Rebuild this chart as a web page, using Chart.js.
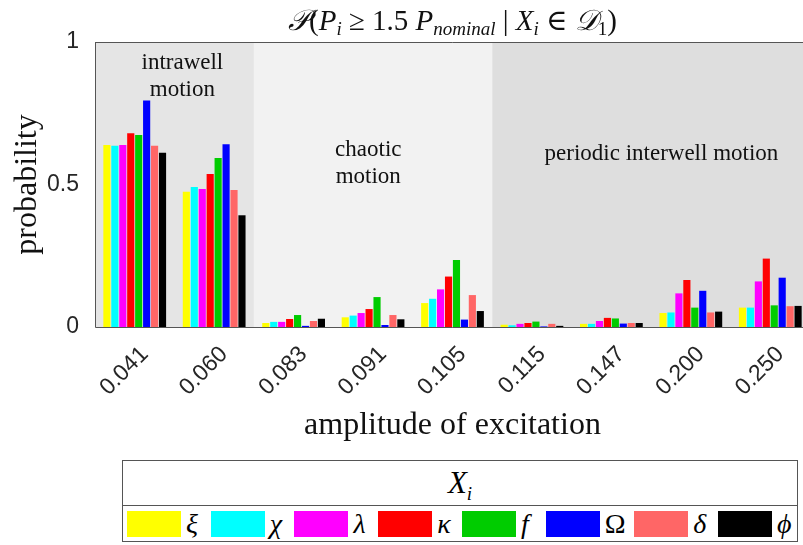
<!DOCTYPE html>
<html>
<head>
<meta charset="utf-8">
<script src="https://cdn.jsdelivr.net/npm/chart.js@4.4.1/dist/chart.umd.min.js"></script>
<style>
  body { margin: 0; background: #fff; width: 803px; height: 545px; overflow: hidden; position: relative; }
  #wrap { position: absolute; left: 0; top: 0; width: 803px; height: 450px; overflow: hidden; }
  #legend { position: absolute; left: 122px; top: 460px; width: 676px; height: 82px; border: 1px solid #555;
    box-sizing: border-box; font-family: 'Liberation Serif', 'DejaVu Serif', serif; background: #fff; }
  #legend .head { height: 44px; border-bottom: 1px solid #555; text-align: center; font-size: 31px;
    font-style: italic; line-height: 44px; }
  #legend .head sub { font-size: 19px; }
  #legend .row { display: flex; align-items: center; justify-content: space-between; height: 36px; padding: 0 4px; }
  #legend .item { display: flex; align-items: center; }
  #legend .sw { width: 54px; height: 26px; }
  #legend .sym { font-style: italic; font-size: 28px; margin-left: 5px; min-width: 16px; }
</style>
</head>
<body>
<div id="wrap"><canvas id="myChart" width="812" height="450"></canvas></div>
<div id="legend"></div>
<script>
// amplitude of excitation (categories)
var amplitudes = ['0.041', '0.060', '0.083', '0.091', '0.105', '0.115', '0.147', '0.200', '0.250'];

// probability per parameter X_i
var xi     = [0.639, 0.475, 0.014, 0.034, 0.084, 0.008, 0.011, 0.049, 0.068];
var chi    = [0.636, 0.491, 0.018, 0.040, 0.099, 0.006, 0.011, 0.051, 0.068];
var lambda = [0.639, 0.484, 0.018, 0.049, 0.132, 0.011, 0.021, 0.118, 0.160];
var kappa  = [0.680, 0.537, 0.028, 0.063, 0.177, 0.014, 0.032, 0.165, 0.240];
var fExc   = [0.674, 0.593, 0.042, 0.105, 0.235, 0.019, 0.030, 0.068, 0.076];
var omega  = [0.795, 0.641, 0.004, 0.007, 0.026, 0.002, 0.012, 0.127, 0.173];
var delta  = [0.636, 0.481, 0.021, 0.042, 0.112, 0.011, 0.014, 0.051, 0.073];
var phi    = [0.611, 0.392, 0.029, 0.027, 0.056, 0.004, 0.014, 0.054, 0.074];

var seriesNames = ['ξ', 'χ', 'λ', 'κ', 'f', 'Ω', 'δ', 'ϕ'];
var seriesData = [xi, chi, lambda, kappa, fExc, omega, delta, phi];
var colors = ['#ffff00', '#00ffff', '#ff00ff', '#ff0000', '#00cc00', '#0000ff', '#ff6666', '#000000'];

// y ticks
var yTicks = ['0', '0.5', '1'];

// motion regimes (category index ranges)
var regimeNames = [['intrawell', 'motion'], ['chaotic', 'motion'], ['periodic interwell motion']];
var regimeFrom = [-0.5, 1.5, 4.5];
var regimeTo = [1.5, 4.5, 8.5];

var SERIF = "'Liberation Serif', 'DejaVu Serif', serif";
var SANS = "'Liberation Sans', Arial, sans-serif";

// shading, box, regime labels and title
var regimePlugin = {
  id: 'regimes',
  beforeDatasetsDraw: function(chart) {
    var ctx = chart.ctx, a = chart.chartArea, x = chart.scales.x;
    var shades = ['#e5e5e5', '#f2f2f2', '#dedede'];
    ctx.save();
    for (var i = 0; i < regimeFrom.length; i++) {
      var x0 = Math.max(a.left, x.getPixelForValue(regimeFrom[i]));
      var x1 = Math.min(a.right, x.getPixelForValue(regimeTo[i]));
      ctx.fillStyle = shades[i];
      ctx.fillRect(x0, a.top, x1 - x0, a.bottom - a.top);
    }
    // regime labels
    var y = chart.scales.y;
    var spots = [[0.6, 0.926], [2.94, 0.621], [6.63, 0.607]];
    ctx.fillStyle = '#111';
    ctx.font = '23px ' + SERIF;
    ctx.textAlign = 'center';
    ctx.textBaseline = 'middle';
    for (var j = 0; j < regimeNames.length; j++) {
      var px = x.getPixelForValue(spots[j][0]);
      var py = y.getPixelForValue(spots[j][1]);
      for (var k = 0; k < regimeNames[j].length; k++) {
        ctx.fillText(regimeNames[j][k], px, py + k * 27);
      }
    }
    ctx.restore();
  },
  afterDraw: function(chart) {
    var ctx = chart.ctx, a = chart.chartArea;
    ctx.save();
    ctx.strokeStyle = '#555';
    ctx.lineWidth = 1;
    ctx.beginPath();
    ctx.moveTo(a.left + 0.5, a.top + 0.5);
    ctx.lineTo(a.right, a.top + 0.5);
    ctx.moveTo(a.left + 0.5, a.top);
    ctx.lineTo(a.left + 0.5, a.bottom + 0.5);
    ctx.lineTo(a.right, a.bottom + 0.5);
    ctx.stroke();

    // title: P(P_i >= 1.5 P_nominal | X_i in D_1)
    var segs = [
      ['𝒫', 'italic 29px', 0], ['(', '29px', 0], ['P', 'italic 29px', 0], ['i', 'italic 19px', 5],
      [' ≥ 1.5 ', '29px', 0], ['P', 'italic 29px', 0], ['nominal', 'italic 19px', 5],
      [' | ', '29px', 0], ['X', 'italic 29px', 0], ['i', 'italic 19px', 5], [' ∈ ', '29px', 0],
      ['𝒟', 'italic 29px', 0], ['1', '19px', 5], [')', '29px', 0]
    ];
    var total = 0;
    segs.forEach(function(s) { ctx.font = s[1] + ' ' + SERIF; total += ctx.measureText(s[0]).width; });
    var cx = (a.left + a.right) / 2 - total / 2;
    ctx.fillStyle = '#111';
    ctx.textAlign = 'left';
    ctx.textBaseline = 'alphabetic';
    segs.forEach(function(s) {
      ctx.font = s[1] + ' ' + SERIF;
      ctx.fillText(s[0], cx, 30 + s[2]);
      cx += ctx.measureText(s[0]).width;
    });
    ctx.restore();
  }
};

var datasets = [];
for (var i = 0; i < seriesData.length; i++) {
  datasets.push({
    label: seriesNames[i],
    data: seriesData[i],
    backgroundColor: colors[i],
    borderWidth: 0,
    categoryPercentage: 0.8,
    barPercentage: 0.9
  });
}

var ctx = document.getElementById('myChart').getContext('2d');
var chart = new Chart(ctx, {
  type: 'bar',
  data: { labels: amplitudes, datasets: datasets },
  options: {
    responsive: false,
    animation: false,
    devicePixelRatio: 1,
    layout: { padding: { top: 42, right: 2, left: 0, bottom: 0 } },
    plugins: { legend: { display: false }, tooltip: { enabled: false } },
    scales: {
      x: {
        grid: { display: false },
        border: { display: false },
        ticks: { color: '#262626', font: { family: SANS, size: 23 }, maxRotation: 45, minRotation: 45,
          padding: 6, labelOffset: 10 },
        title: { display: true, text: 'amplitude of excitation', color: '#111',
          font: { family: SERIF, size: 32 }, padding: { top: 0, bottom: 5 } },
        afterFit: function(s) { s.height = 123; }
      },
      y: {
        min: 0, max: 1,
        grid: { display: false },
        border: { display: false },
        ticks: { stepSize: 0.5, color: '#262626', font: { family: SANS, size: 23 }, padding: 8,
          callback: function(v, i) { return yTicks[i]; } },
        title: { display: true, text: 'probability', color: '#111',
          font: { family: SERIF, size: 32 }, padding: { top: 8, bottom: 0 } },
        afterFit: function(s) { s.width = 95; }
      }
    }
  },
  plugins: [regimePlugin]
});

// legend table
var html = '<div class="head">X<sub>i</sub></div><div class="row">';
for (var j = 0; j < seriesNames.length; j++) {
  var st = seriesNames[j] === 'Ω' ? ' style="font-style:normal"' : '';
  html += '<div class="item"><div class="sw" style="background:' + colors[j] + '"></div><span class="sym"' + st + '>' +
    seriesNames[j] + '</span></div>';
}
html += '</div>';
document.getElementById('legend').innerHTML = html;
</script>
</body>
</html>
